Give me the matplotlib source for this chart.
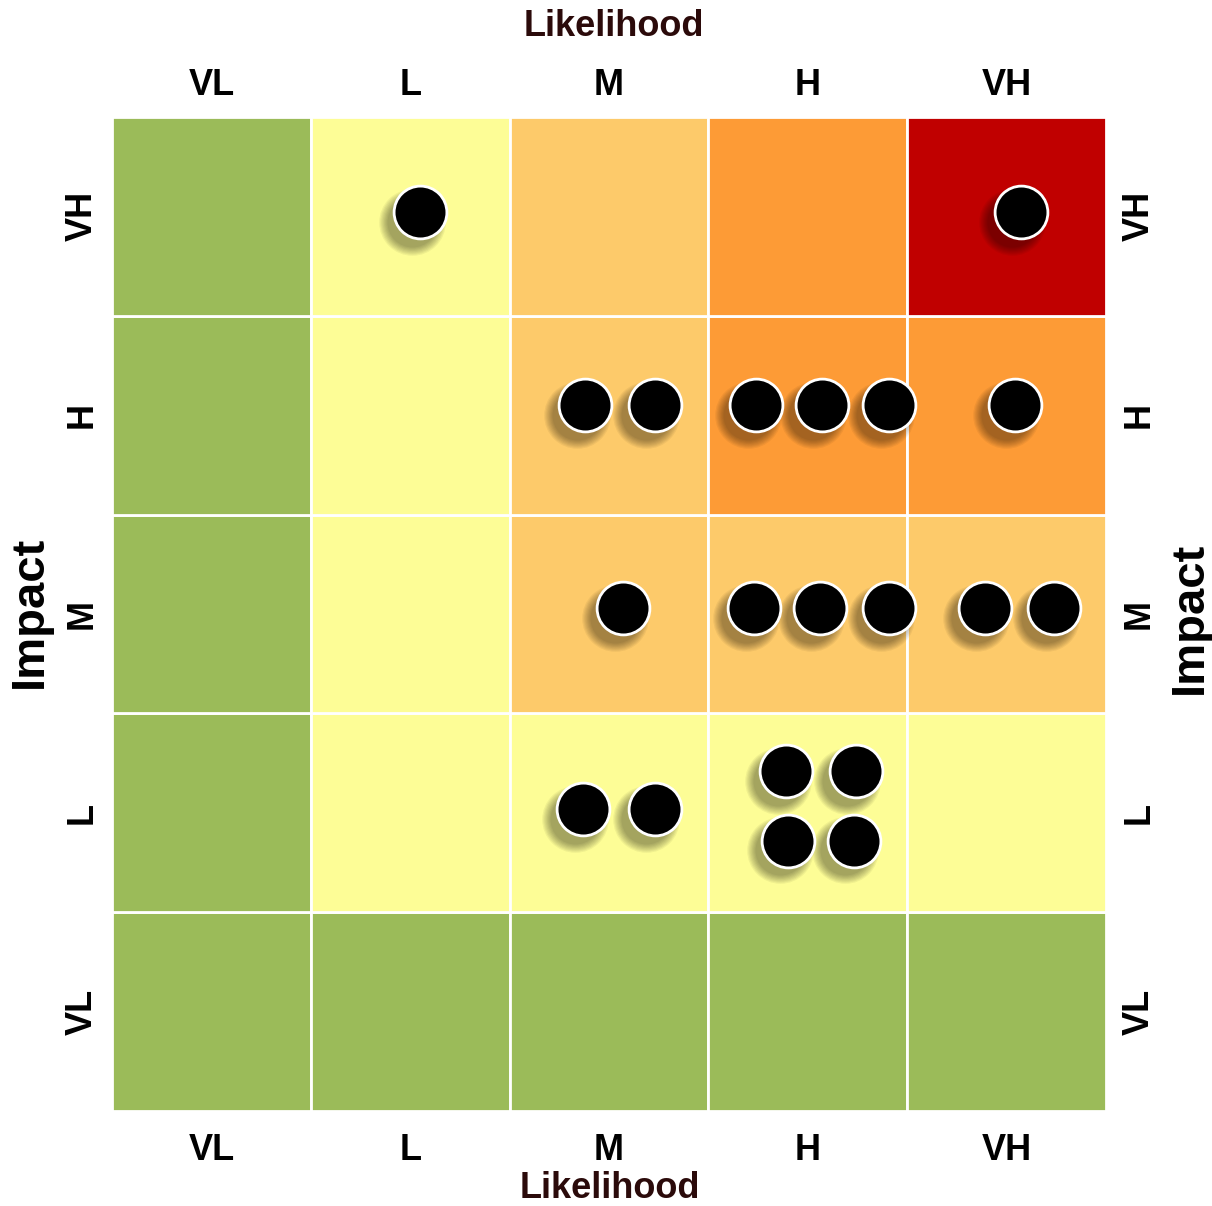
import numpy as np
import matplotlib.pyplot as plt
from matplotlib.patches import Rectangle
from matplotlib import transforms

plt.rcParams['font.family'] = ['Liberation Sans', 'DejaVu Sans']

levels = ['VL', 'L', 'M', 'H', 'VH']

# cell colours, rows from VL (bottom) to VH (top), columns VL..VH likelihood
green = '#9bbb59'
yellow = '#fdfd96'
lorange = '#fdca6a'
orange = '#fd9b36'
red = '#c00000'
cell_colors = [
    [green, green, green, green, green],          # VL
    [green, yellow, yellow, yellow, yellow],      # L
    [green, yellow, lorange, lorange, lorange],   # M
    [green, yellow, lorange, orange, orange],     # H
    [green, yellow, lorange, orange, red],        # VH
]

# risk points (likelihood position, impact position) in cell units
risk_x = [1.55, 4.57,
          2.38, 2.73, 3.24, 3.57, 3.91, 4.54,
          2.57, 3.23, 3.56, 3.91, 4.39, 4.74,
          2.37, 2.73, 3.39, 3.74, 3.40, 3.73]
risk_y = [4.52, 4.52,
          3.55, 3.55, 3.55, 3.55, 3.55, 3.55,
          2.53, 2.53, 2.53, 2.53, 2.53, 2.53,
          1.52, 1.52, 1.71, 1.71, 1.36, 1.36]

fig = plt.figure(figsize=(12.12, 12.06), dpi=100)
ax = fig.add_axes([112/1212, 1 - 1111/1206, 994/1212, 994/1206])

for r in range(5):
    for c in range(5):
        ax.add_patch(Rectangle((c, r), 1, 1, facecolor=cell_colors[r][c],
                               edgecolor='white', linewidth=2.0))

# soft shadow behind each point
shadow = transforms.offset_copy(ax.transData, fig=fig, x=-6, y=-7, units='points')
for s in np.linspace(48, 36, 8):
    ax.scatter(risk_x, risk_y, s=s**2, color='black', alpha=0.05,
               linewidths=0, transform=shadow, zorder=3)

ax.scatter(risk_x, risk_y, s=38**2, color='black', edgecolors='white',
           linewidths=2.0, zorder=4)

ax.set_xlim(0, 5)
ax.set_ylim(0, 5)
ticks = np.arange(5) + 0.5
ax.set_xticks(ticks)
ax.set_yticks(ticks)
ax.set_xticklabels(levels, fontsize=26, fontweight='bold')
ax.set_yticklabels(levels, fontsize=26, fontweight='bold',
                   rotation=90, va='center')
ax.tick_params(axis='x', length=0, pad=16)
ax.tick_params(axis='y', length=0, pad=9)
for sp in ax.spines.values():
    sp.set_visible(False)

top = ax.secondary_xaxis('top')
top.set_xticks(ticks)
top.set_xticklabels(levels, fontsize=26, fontweight='bold')
top.tick_params(length=0, pad=10)
top.spines['top'].set_visible(False)

right = ax.secondary_yaxis('right')
right.set_yticks(ticks)
right.set_yticklabels(levels, fontsize=26, fontweight='bold',
                      rotation=90, va='center')
right.tick_params(length=0, pad=11)
right.spines['right'].set_visible(False)

fig.text(0.5066, 0.978, 'Likelihood', fontsize=26, fontweight='bold',
         color='#2b0a0a', ha='center', va='center')
fig.text(0.503, 0.0145, 'Likelihood', fontsize=26, fontweight='bold',
         color='#2b0a0a', ha='center', va='center')
fig.text(0.0248, 0.4925, 'Impact', fontsize=34, fontweight='bold',
         rotation=90, ha='center', va='center')
fig.text(0.982, 0.488, 'Impact', fontsize=34, fontweight='bold',
         rotation=90, ha='center', va='center')

fig.savefig('out.png', dpi=100)
